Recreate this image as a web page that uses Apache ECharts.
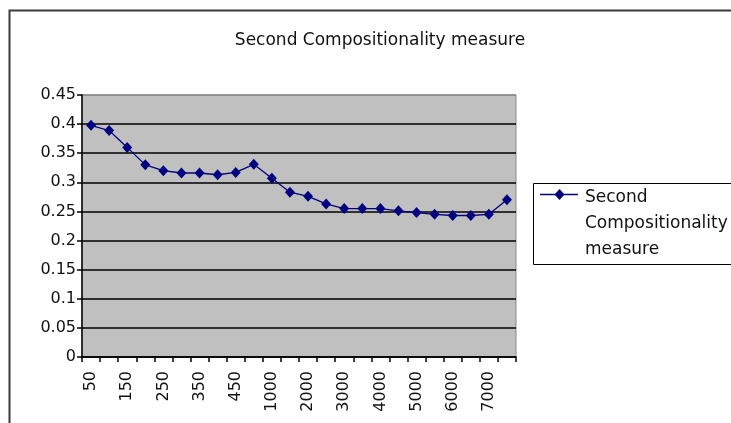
<!DOCTYPE html>
<html>
<head>
<meta charset="utf-8">
<script src="https://cdn.jsdelivr.net/npm/echarts@6/dist/echarts.min.js"></script>
<style>
  html, body { margin: 0; padding: 0; background: #fff; }
  #chart { width: 731px; height: 423px; }
</style>
</head>
<body>
<div id="chart"></div>
<script>
// Sample sizes along the x axis
const categories = ['50', '100', '150', '200', '250', '300', '350', '400', '450', '500',
  '1000', '1500', '2000', '2500', '3000', '3500', '4000', '4500', '5000', '5500',
  '6000', '6500', '7000', '7500'];

// Measure value for each sample size
const measureValues = [0.398, 0.389, 0.36, 0.33, 0.32, 0.316, 0.316, 0.313, 0.317, 0.331,
  0.307, 0.283, 0.276, 0.263, 0.255, 0.255, 0.255, 0.251, 0.248, 0.245,
  0.243, 0.243, 0.245, 0.27];

const seriesName = 'Second Compositionality measure';
const legendLines = ['Second', 'Compositionality', 'measure'];

const FONT = '"DejaVu Sans", sans-serif';
const chart = echarts.init(document.getElementById('chart'), null, { renderer: 'canvas' });

// Split lines from 0 to 0.45: black inside, grey at the top edge
const splitColors = ['#000', '#000', '#000', '#000', '#000', '#000', '#000', '#000', '#000', '#8a8a8a'];

chart.setOption({
  animation: false,
  backgroundColor: '#fff',
  title: {
    text: seriesName,
    left: 375,
    top: 27,
    textAlign: 'center',
    textStyle: { fontFamily: FONT, fontSize: 17, fontWeight: 'normal', color: '#111' }
  },
  grid: {
    left: 82, top: 95, right: 215, bottom: 66,
    show: true,
    backgroundColor: '#c0c0c0',
    borderColor: '#8a8a8a',
    borderWidth: 1
  },
  xAxis: {
    type: 'category',
    data: categories,
    boundaryGap: true,
    axisLine: { lineStyle: { color: '#000', width: 1.5 } },
    axisTick: { show: true, interval: 0, length: 5, lineStyle: { color: '#000', width: 1.5 } },
    axisLabel: {
      interval: 1,
      rotate: 90,
      margin: 14,
      color: '#111',
      fontFamily: FONT,
      fontSize: 16
    },
    splitLine: { show: false }
  },
  yAxis: {
    type: 'value',
    min: 0,
    max: 0.45,
    interval: 0.05,
    axisLine: { show: true, lineStyle: { color: '#000', width: 1.5 } },
    axisTick: { show: true, length: 5, lineStyle: { color: '#000', width: 1.5 } },
    axisLabel: {
      margin: 6,
      color: '#111',
      fontFamily: FONT,
      fontSize: 16,
      formatter: v => String(parseFloat(v.toFixed(2)))
    },
    splitLine: { show: true, lineStyle: { color: splitColors, width: 1.5 } }
  },
  series: [{
    name: seriesName,
    type: 'line',
    data: measureValues,
    symbol: 'diamond',
    symbolSize: [10, 11],
    showAllSymbol: true,
    itemStyle: { color: '#000080' },
    lineStyle: { color: '#000080', width: 1.3 }
  }],
  graphic: [
    // outer chart frame, open past the right and bottom edges
    {
      type: 'rect',
      shape: { x: 9.5, y: 10.5, width: 800, height: 500 },
      style: { fill: 'none', stroke: '#3a3a3a', lineWidth: 2 },
      silent: true
    },
    // legend box
    {
      type: 'rect',
      shape: { x: 533.5, y: 183.5, width: 220, height: 81 },
      style: { fill: '#fff', stroke: '#000', lineWidth: 1 },
      silent: true
    },
    {
      type: 'line',
      shape: { x1: 540, y1: 194.5, x2: 578, y2: 194.5 },
      style: { stroke: '#000080', lineWidth: 1.3 },
      silent: true
    },
    {
      type: 'polygon',
      shape: { points: [[559.5, 189], [564.5, 194.5], [559.5, 200], [554.5, 194.5]] },
      style: { fill: '#000080' },
      silent: true
    },
    {
      type: 'text',
      left: 585,
      top: 185,
      style: {
        text: legendLines.join('\n'),
        font: '17px ' + FONT,
        lineHeight: 26,
        fill: '#111'
      },
      silent: true
    }
  ]
});
</script>
</body>
</html>
